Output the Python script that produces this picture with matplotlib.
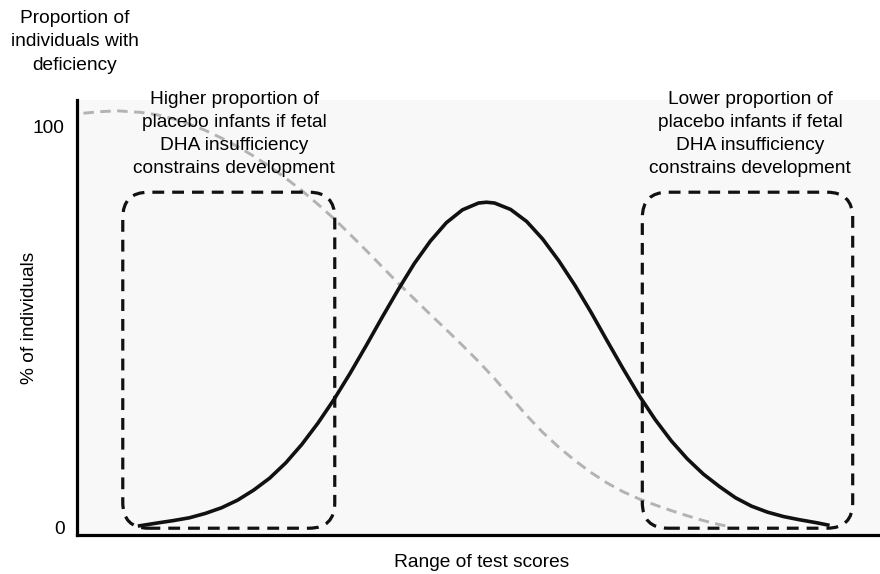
import numpy as np
import matplotlib.pyplot as plt
from matplotlib.patches import FancyBboxPatch

plt.rcParams['font.family'] = ['Liberation Sans', 'DejaVu Sans']

# curva de distribucion de puntajes
score_x = [7.8, 10, 12, 14, 16, 18, 20, 22, 24, 26, 28, 30, 32, 34, 36, 38, 40, 42, 44, 46, 48, 50,
           51, 52, 54, 56, 58, 60, 62, 64, 66, 68, 70, 72, 74, 76, 78, 80, 82, 84, 86, 88, 90, 92, 93.5]
score_y = [0.3, 1.0, 1.6, 2.3, 3.4, 4.8, 6.7, 9.2, 12.2, 16.0, 20.6, 25.9, 31.8, 38.3, 45.2, 52.3, 59.2,
           65.7, 71.3, 75.9, 79.1, 80.8, 81, 80.8, 79.2, 76.2, 71.8, 66.4, 60.3, 53.6, 46.5, 39.5, 32.8,
           26.8, 21.5, 17.0, 13.2, 10.1, 7.3, 5.2, 3.7, 2.6, 1.8, 1.1, 0.5]

# proporcion con deficiencia (linea gris punteada)
defic_x = [0.8, 3, 5, 8, 10, 12, 14, 16, 18, 20, 22, 24, 26, 28, 30, 32, 34, 36, 38, 40, 42, 44, 46,
           48, 50, 52, 54, 56, 58, 60, 62, 64, 66, 68, 70, 72, 74, 76, 78, 80, 81.5]
defic_y = [103.2, 103.6, 103.8, 103.4, 102.8, 101.8, 100.5, 98.9, 97.0, 94.9, 92.5, 89.9, 87.0, 83.9,
           80.5, 76.9, 73.0, 69.0, 64.9, 60.8, 56.9, 53.0, 49.2, 45.3, 41.3, 37.0, 32.4, 27.8, 23.6,
           19.9, 16.6, 13.6, 11.0, 8.8, 7.0, 5.5, 4.1, 2.8, 1.6, 0.6, 0]

# regiones marcadas (x0, x1, y0, y1)
regiones = [(5.7, 32.1, -0.3, 83.5), (70.4, 96.6, -0.3, 83.5)]

texto_izq = 'Higher proportion of\nplacebo infants if fetal\nDHA insufficiency\nconstrains development'
texto_der = 'Lower proportion of\nplacebo infants if fetal\nDHA insufficiency\nconstrains development'

fs = 13.8

fig = plt.figure(figsize=(8.8, 5.74), dpi=100)
ax = fig.add_axes([0.0875, 0.0679, 0.9125, 0.7579])
ax.set_facecolor('#f8f8f8')

ax.plot(defic_x, defic_y, color='#b3b3b3', lw=2.1, linestyle=(0, (3.6, 2.2)), zorder=2)
ax.plot(score_x, score_y, color='#111111', lw=2.6, zorder=3)

for x0, x1, y0, y1 in regiones:
    caja = FancyBboxPatch((x0, y0), x1 - x0, y1 - y0,
                          boxstyle='round,pad=0,rounding_size=3.2', mutation_aspect=2,
                          fill=False, edgecolor='#111111', lw=2.3, linestyle=(0, (3.7, 2.5)), zorder=4)
    ax.add_patch(caja)

ax.set_xlim(0, 100)
ax.set_ylim(-2, 106.5)
ax.set_xticks([])
ax.set_yticks([0, 100])
ax.set_yticklabels(['0', '100'], fontsize=fs)
ax.tick_params(axis='y', length=0, pad=9)
for s in ['top', 'right']:
    ax.spines[s].set_visible(False)
ax.spines['left'].set_linewidth(2.3)
ax.spines['bottom'].set_linewidth(2.3)

ax.set_ylabel('% of individuals', fontsize=fs)
ax.yaxis.set_label_coords(-0.049, 0.499)
ax.set_xlabel('Range of test scores', fontsize=fs)
ax.xaxis.set_label_coords(0.504, -0.043)

fig.text(75 / 880, 1 - 42 / 574, 'Proportion of\nindividuals with\ndeficiency', fontsize=fs,
         ha='center', va='center', linespacing=1.48)
fig.text(234 / 880, 1 - 134 / 574, texto_izq, fontsize=fs, ha='center', va='center', linespacing=1.48)
fig.text(750 / 880, 1 - 134 / 574, texto_der, fontsize=fs, ha='center', va='center', linespacing=1.48)

fig.savefig('out.png', dpi=100)
